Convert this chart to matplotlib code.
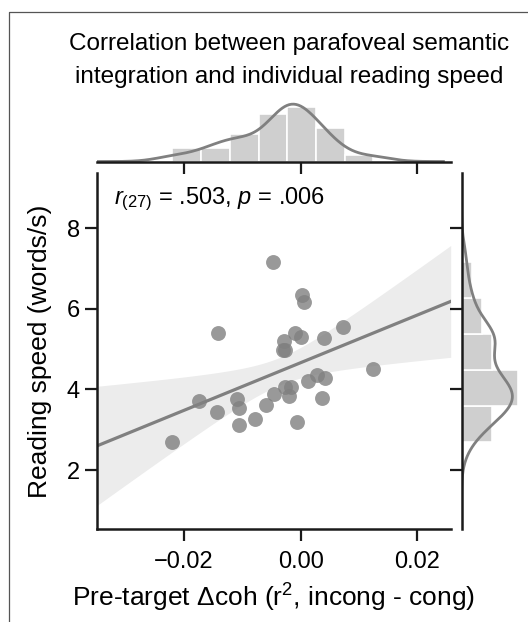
# Joint plot: parafoveal semantic integration (pre-target Δcoh) vs reading speed,
# regression with 95% CI in the centre, histogram + KDE marginals.
import numpy as np
import matplotlib; matplotlib.use("Agg"); import matplotlib.pyplot as plt
from matplotlib.lines import Line2D

plt.rcParams.update({"font.family": ["Liberation Sans", "DejaVu Sans"], "font.size": 17,
                     "mathtext.fontset": "custom", "mathtext.rm": "Liberation Sans",
                     "mathtext.it": "Liberation Sans:italic"})

# ── data (n = 29) ──
dcoh = [-0.0047, 0.0003, 0.0005, -0.0142, 0.0073, -0.0010, 0.0000, 0.0040, -0.0028, -0.0031,
        -0.0027, 0.0125, 0.0028, 0.0042, 0.0013, -0.0027, -0.0017, -0.0046, -0.0020, 0.0037,
        -0.0110, -0.0175, -0.0106, -0.0060, -0.0143, -0.0079, -0.0106, -0.0006, -0.0220]
speed = [7.17, 6.35, 6.18, 5.40, 5.56, 5.40, 5.30, 5.28, 5.21, 4.98,
         4.97, 4.50, 4.36, 4.28, 4.20, 4.07, 4.07, 3.89, 3.83, 3.79,
         3.77, 3.70, 3.54, 3.62, 3.44, 3.26, 3.11, 3.19, 2.69]
stat_txt = r"$\mathit{r}_{(27)}$ = .503, $\mathit{p}$ = .006"
title = ["Correlation between parafoveal semantic", "integration and individual reading speed"]
xticks = [-0.02, 0.0, 0.02]
yticks = [2, 4, 6, 8]

x = np.array(dcoh); y = np.array(speed); n = len(x)
XLIM = (-0.0350, 0.02575); YLIM = (0.536, 9.37)
GREY, BAR, BAND = "#808080", "#cfcfcf", "#ececec"
BW_ADJ = 0.82   # marginal KDE bandwidth relative to Scott

W, H = 528, 622
fig = plt.figure(figsize=(W / 100, H / 100), dpi=100)
def px(l, t, r, b):  # pixel box (top-left origin) -> figure fraction
    return [l / W, 1 - b / H, (r - l) / W, (b - t) / H]

ax = fig.add_axes(px(96.7, 173, 450.7, 529))
axt = fig.add_axes(px(96.7, 100, 450.7, 161.5), sharex=ax)
axr = fig.add_axes(px(461.5, 173, 522, 529), sharey=ax)

# ── centre: scatter + OLS fit with 95% CI band ──
b1, b0 = np.polyfit(x, y, 1)
xx = np.linspace(*XLIM, 200)
res = y - (b0 + b1 * x); s = np.sqrt((res ** 2).sum() / (n - 2))
se = s * np.sqrt(1 / n + (xx - x.mean()) ** 2 / ((x - x.mean()) ** 2).sum())
fit = b0 + b1 * xx
ax.fill_between(xx, fit - 1.85 * se, fit + 1.85 * se, color=BAND, lw=0, zorder=1)
ax.plot(xx, fit, color=GREY, lw=2.3, zorder=2)
ax.scatter(x, y, s=115, color=GREY, alpha=.8, linewidths=0, zorder=3)
ax.set_xlim(XLIM); ax.set_ylim(YLIM)
ax.set_xticks(xticks); ax.set_yticks(yticks)
ax.set_xticklabels([f"{v:.2f}".replace("-", "\u2212") for v in xticks])
ax.set_xlabel(r"Pre-target Δcoh (r$^2$, incong - cong)", fontsize=19, labelpad=7)
ax.set_ylabel("Reading speed (words/s)", fontsize=19, labelpad=11)
ax.tick_params(axis="x", pad=7)
ax.text(0.049, 0.913, stat_txt, transform=ax.transAxes, va="baseline", ha="left")

def kde(v, grid):
    bw = BW_ADJ * v.std(ddof=1) * len(v) ** (-1 / 5)
    return np.exp(-0.5 * ((grid[:, None] - v[None, :]) / bw) ** 2).sum(1) / (len(v) * bw * np.sqrt(2 * np.pi))

# ── top marginal ──
cnt, edges = np.histogram(x, bins=7)
axt.bar(edges[:-1], cnt, width=np.diff(edges), align="edge", color=BAR, edgecolor="white", lw=1.2)
gx = np.linspace(XLIM[0], 0.0245, 300)
axt.plot(gx, kde(x, gx) * n * np.diff(edges)[0], color=GREY, lw=2)
axt.set_ylim(0, 9.1)

# ── right marginal ──
cnt, edges = np.histogram(y, bins=5)
axr.barh(edges[:-1], cnt, height=np.diff(edges), align="edge", color=BAR, edgecolor="white", lw=1.2)
gy = np.linspace(1.3, 8.6, 300)
axr.plot(kde(y, gy) * n * np.diff(edges)[0], gy, color=GREY, lw=2)
axr.set_xlim(0, 11.75)

for a in (ax, axt, axr):
    for sp in a.spines.values(): sp.set_linewidth(1.8); sp.set_color("#1a1a1a")
    a.tick_params(length=8.5, width=1.6, color="#1a1a1a")
for a in (ax, axt): a.spines[["top", "right"]].set_visible(False)
axt.spines["left"].set_visible(False)
axt.tick_params(axis="y", left=False, labelleft=False); axt.tick_params(axis="x", labelbottom=False)
axr.spines[["top", "right", "bottom"]].set_visible(False)
axr.tick_params(axis="x", bottom=False, labelbottom=False); axr.tick_params(axis="y", labelleft=False)

fig.text(289 / W, 1 - 50 / H, title[0], ha="center", va="baseline", fontsize=17.5)
fig.text(289 / W, 1 - 83 / H, title[1], ha="center", va="baseline", fontsize=17.5)
# thin frame (top + left) as in the source panel
fig.add_artist(Line2D([9 / W, 9 / W, 1], [0, 1 - 12 / H, 1 - 12 / H], transform=fig.transFigure,
                      color="#555555", lw=0.9))

fig.savefig("out.png", dpi=100)
print("slope", b1, "r", np.corrcoef(x, y)[0, 1])
